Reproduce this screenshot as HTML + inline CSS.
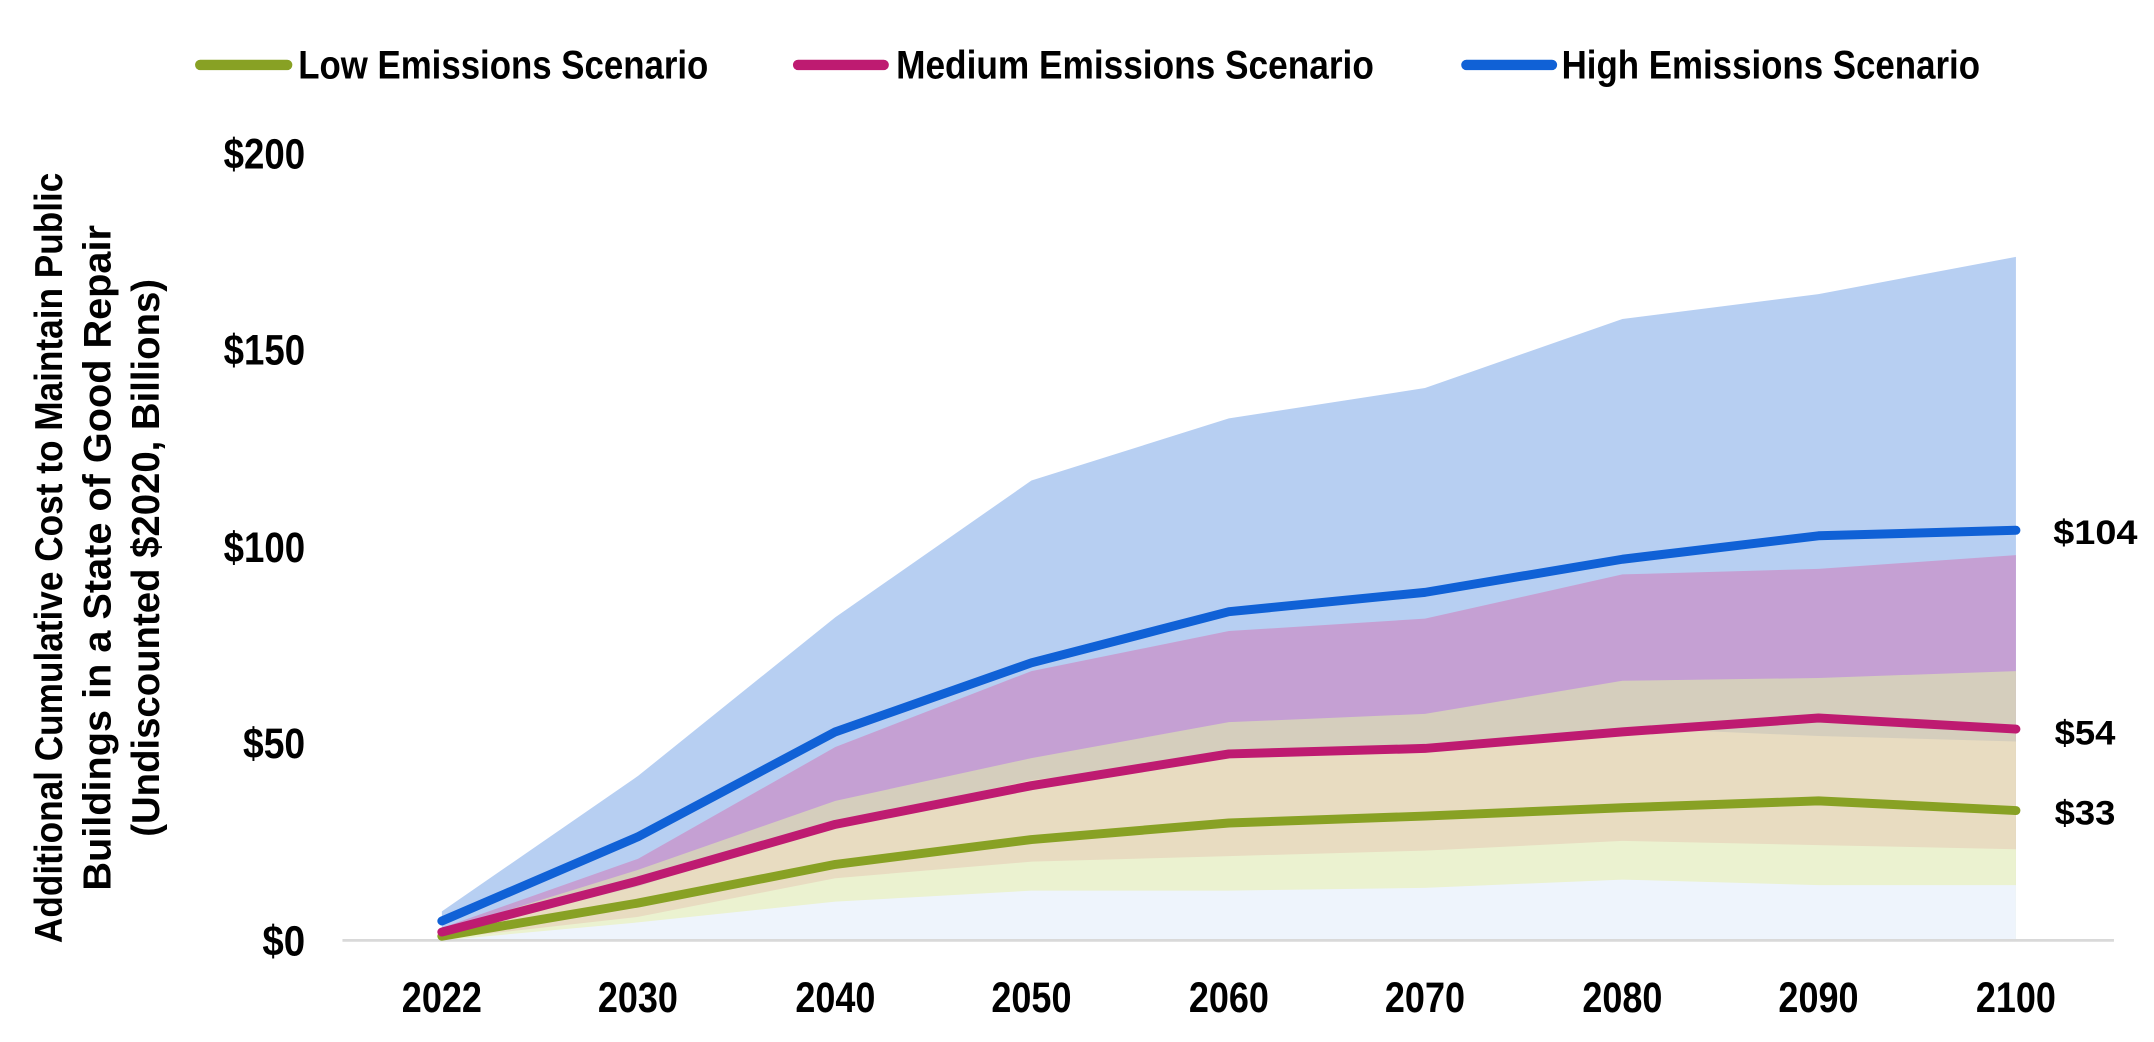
<!DOCTYPE html>
<html><head><meta charset="utf-8"><style>
html,body{margin:0;padding:0;background:#fff;}
svg{display:block;}
text{font-family:"Liberation Sans",Arial,sans-serif;font-weight:bold;fill:#000;}
</style></head><body>
<svg width="2154" height="1042" viewBox="0 0 1560 754.6" xmlns="http://www.w3.org/2000/svg">
<polygon fill="#b7cff2" points="320,660 462,562 605,447 747,348 890,303 1032,281 1175,231 1317,213 1460,186 1460,681 320,681"/>
<polygon fill="#c5a0d3" points="320,672 462,622 605,541 747,486 890,457 1032,448 1175,416 1317,412 1460,402 1460,681 320,681"/>
<polygon fill="#d5cebd" points="320,674 462,630 605,580 747,549 890,523 1032,517 1175,493 1317,491 1460,486 1460,681 320,681"/>
<polygon fill="#e8dcc1" points="320,676 462,642 605,596 747,565 890,548 1032,543 1175,527 1317,533 1460,537 1460,681 320,681"/>
<polygon fill="#ebf2d0" points="320,680 462,664 605,636 747,624 890,620 1032,616 1175,609 1317,612 1460,615 1460,681 320,681"/>
<polygon fill="#eef4fc" points="320,681 462,668 605,653 747,645 890,645 1032,643 1175,637 1317,641 1460,641 1460,681 320,681"/>
<line x1="248" y1="681" x2="1531" y2="681" stroke="#d9d9d9" stroke-width="2"/>
<polyline fill="none" stroke="#88a124" stroke-width="6.5" stroke-linecap="round" stroke-linejoin="round" points="320,678 462,654 605,626 747,608 890,596 1032,591 1175,585 1317,580 1460,587"/>
<polyline fill="none" stroke="#be1b71" stroke-width="6.5" stroke-linecap="round" stroke-linejoin="round" points="320,675 462,638 605,597 747,569 890,546 1032,542 1175,530 1317,520 1460,528"/>
<polyline fill="none" stroke="#1061d6" stroke-width="6.5" stroke-linecap="round" stroke-linejoin="round" points="320,667 462,606 605,530 747,480 890,443 1032,429 1175,405 1317,388 1460,384"/>
<g font-size="31" text-anchor="end">
<text x="221" y="122" textLength="59" lengthAdjust="spacingAndGlyphs">$200</text>
<text x="221" y="264" textLength="59" lengthAdjust="spacingAndGlyphs">$150</text>
<text x="221" y="407" textLength="59" lengthAdjust="spacingAndGlyphs">$100</text>
<text x="221" y="549" textLength="45" lengthAdjust="spacingAndGlyphs">$50</text>
<text x="221" y="692" textLength="31" lengthAdjust="spacingAndGlyphs">$0</text>
</g>
<g font-size="31" text-anchor="middle">
<text x="320" y="733" textLength="58" lengthAdjust="spacingAndGlyphs">2022</text>
<text x="462" y="733" textLength="58" lengthAdjust="spacingAndGlyphs">2030</text>
<text x="605" y="733" textLength="58" lengthAdjust="spacingAndGlyphs">2040</text>
<text x="747" y="733" textLength="58" lengthAdjust="spacingAndGlyphs">2050</text>
<text x="890" y="733" textLength="58" lengthAdjust="spacingAndGlyphs">2060</text>
<text x="1032" y="733" textLength="58" lengthAdjust="spacingAndGlyphs">2070</text>
<text x="1175" y="733" textLength="58" lengthAdjust="spacingAndGlyphs">2080</text>
<text x="1317" y="733" textLength="58" lengthAdjust="spacingAndGlyphs">2090</text>
<text x="1460" y="733" textLength="58" lengthAdjust="spacingAndGlyphs">2100</text>
</g>
<g font-size="25">
<text x="1487" y="394" textLength="61" lengthAdjust="spacingAndGlyphs">$104</text>
<text x="1488" y="539" textLength="44" lengthAdjust="spacingAndGlyphs">$54</text>
<text x="1488" y="597" textLength="44" lengthAdjust="spacingAndGlyphs">$33</text>
</g>
<line x1="145" y1="47" x2="208" y2="47" stroke="#88a124" stroke-width="7.5" stroke-linecap="round"/>
<text x="216" y="57" font-size="29" textLength="297" lengthAdjust="spacingAndGlyphs">Low Emissions Scenario</text>
<line x1="578" y1="47" x2="640" y2="47" stroke="#be1b71" stroke-width="7.5" stroke-linecap="round"/>
<text x="649" y="57" font-size="29" textLength="346" lengthAdjust="spacingAndGlyphs">Medium Emissions Scenario</text>
<line x1="1062" y1="47" x2="1124" y2="47" stroke="#1061d6" stroke-width="7.5" stroke-linecap="round"/>
<text x="1131" y="57" font-size="29" textLength="303" lengthAdjust="spacingAndGlyphs">High Emissions Scenario</text>
<g font-size="28" text-anchor="middle">
<text transform="translate(45,404) rotate(-90)" textLength="558" lengthAdjust="spacingAndGlyphs">Additional Cumulative Cost to Maintain Public</text>
<text transform="translate(80,404) rotate(-90)" textLength="482" lengthAdjust="spacingAndGlyphs">Buildings in a State of Good Repair</text>
<text transform="translate(115,404) rotate(-90)" textLength="404" lengthAdjust="spacingAndGlyphs">(Undiscounted $2020, Billions)</text>
</g>
</svg>
</body></html>
